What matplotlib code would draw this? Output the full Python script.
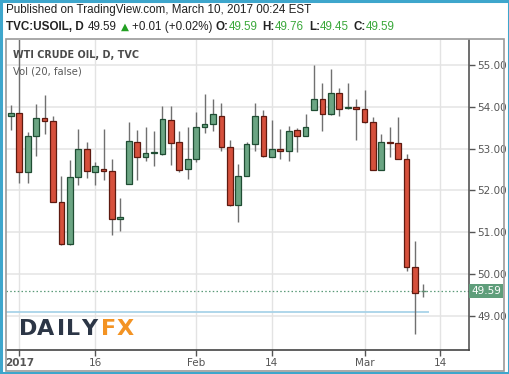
import matplotlib
matplotlib.use("Agg")
import matplotlib.pyplot as plt
from matplotlib.patches import Rectangle
from matplotlib.transforms import blended_transform_factory

# ---- DATA (daily bars, index 0 = first bar of 2017 tick) ----
bar_idx = list(range(-1, 49))
opens = [53.78, 53.85, 52.43, 53.31, 53.73, 53.66, 51.73, 50.71, 52.32, 52.99,
         52.45, 52.49, 52.47, 51.32, 52.16, 53.16, 52.80, 52.89, 52.88, 53.68,
         53.15, 52.52, 52.76, 53.51, 53.60, 53.79, 53.04, 51.64, 52.35, 53.10,
         53.79, 52.80, 52.99, 52.94, 53.44, 53.31, 53.93, 54.19, 53.82, 54.32,
         53.97, 54.00, 53.94, 53.63, 52.50, 53.16, 53.14, 52.75, 50.16, 49.59]
highs = [54.04, 55.70, 53.39, 54.06, 54.28, 53.78, 52.34, 52.72, 53.46, 53.15,
         52.67, 53.48, 52.75, 51.83, 53.64, 53.44, 53.51, 53.42, 54.02, 54.02,
         53.42, 53.51, 53.87, 54.30, 54.18, 54.10, 53.20, 52.63, 53.16, 54.10,
         53.92, 53.68, 53.48, 53.54, 53.49, 53.82, 55.00, 54.58, 54.90, 54.46,
         54.58, 54.18, 54.40, 53.76, 53.35, 53.51, 53.76, 52.87, 50.78, 49.76]
lows = [53.44, 52.17, 52.17, 52.83, 53.36, 51.72, 50.70, 50.70, 52.14, 52.30,
        52.14, 52.26, 50.94, 51.04, 52.15, 52.26, 52.70, 52.58, 52.84, 52.60,
        52.43, 52.28, 52.67, 53.38, 53.42, 52.94, 51.63, 51.24, 52.34, 52.94,
        52.79, 52.79, 52.75, 52.71, 52.91, 53.30, 53.92, 53.42, 53.81, 53.77,
        53.96, 53.20, 53.62, 52.49, 52.49, 52.79, 52.74, 50.08, 48.57, 49.45]
closes = [53.85, 52.43, 53.31, 53.73, 53.65, 51.73, 50.71, 52.33, 52.99, 52.47,
          52.59, 52.47, 51.32, 51.35, 53.18, 52.81, 52.90, 52.91, 53.70, 53.14,
          52.50, 52.76, 53.51, 53.60, 53.82, 53.04, 51.64, 52.35, 53.10, 53.79,
          52.83, 52.99, 52.94, 53.41, 53.31, 53.51, 54.19, 53.82, 54.32, 53.96,
          53.99, 53.94, 53.63, 52.50, 53.16, 53.13, 52.75, 50.16, 49.55, 49.59]

last_price = 49.59
vol_line = 49.085
x_ticks = [0, 9, 21, 30, 41, 50]
x_labels = ["2017", "16", "Feb", "14", "Mar", "14"]
y_ticks = [49, 50, 51, 52, 53, 54, 55]

W, H = 510, 374
UP, DOWN = "#6ba583", "#d6503c"
UP_EDGE, DOWN_EDGE = "#1f4d33", "#5e1a10"
TXT = "#555555"


def fx(x):
    return x / W


def fy(y):
    return 1 - y / H


fig = plt.figure(figsize=(W / 100, H / 100), dpi=100)
fig.patch.set_facecolor("white")

# outer blue border and chart frame
fig.patches.append(Rectangle((0.002, 0.003), 0.996, 0.994, transform=fig.transFigure,
                             fill=False, ec="#3ea6cc", lw=2.2))
fig.patches.append(Rectangle((fx(6), fy(371)), fx(504) - fx(6), fy(39) - fy(371),
                             transform=fig.transFigure, fill=False, ec="#9a9a9a", lw=1.2))

ax = fig.add_axes([fx(6), fy(350), fx(469) - fx(6), fy(40) - fy(350)])
ax.set_xlim(-1.58, 53.41)
ax.set_ylim(48.18, 55.60)

# grid
for y in y_ticks:
    ax.axhline(y, color="#e8e8e8", lw=1.3, zorder=0)
for x in x_ticks:
    ax.axvline(x, color="#e3e3e3", lw=1.0, zorder=0)

# candles
for i, o, h, l, c in zip(bar_idx, opens, highs, lows, closes):
    up = c >= o
    ax.vlines(i, l, h, color="#707070", lw=1.0, zorder=2)
    if i == bar_idx[-1]:
        ax.hlines(c, i - 0.3, i + 0.3, color="#5f8f72", lw=1.0, zorder=3)
        continue
    bottom = min(o, c)
    height = max(abs(c - o), 0.035)
    ax.bar(i, height, bottom=bottom, width=0.68,
           color=UP if up else DOWN, edgecolor=UP_EDGE if up else DOWN_EDGE,
           lw=0.9, zorder=3)

# last price dotted line and blue vol line
ax.axhline(last_price, color="#5b9a78", lw=0.9, ls=(0, (1.2, 1.8)), zorder=1)
ax.hlines(vol_line, -1.58, 48.6, color="#a9d3e8", lw=1.3, zorder=1)

# axes styling
for s in ["top", "left"]:
    ax.spines[s].set_visible(False)
ax.spines["right"].set_color("#555555")
ax.spines["bottom"].set_color("#444444")
ax.spines["right"].set_linewidth(1.2)
ax.spines["bottom"].set_linewidth(1.2)
ax.yaxis.tick_right()
ax.set_yticks(y_ticks)
ax.set_yticklabels([f"{v:.2f}" for v in y_ticks])
ax.set_xticks(x_ticks)
ax.set_xticklabels(x_labels)
ax.tick_params(axis="both", colors="#555555", labelcolor=TXT, labelsize=7.5,
               length=4, width=1)
ax.tick_params(axis="y", pad=2)
ax.tick_params(axis="x", pad=1.5)
ax.get_xticklabels()[0].set_fontweight("bold")

# price label on the axis
trans = blended_transform_factory(ax.transAxes, ax.transData)
ax.text(1.0 + 2 / 463, last_price, "49.59", transform=trans, ha="left", va="center",
        color="white", fontsize=7.5,
        bbox=dict(boxstyle="square,pad=0.22", fc="#5f9e7b", ec="none"), clip_on=False)

# chart titles
fig.text(fx(13), fy(55), "WTI CRUDE OIL, D, TVC",
         fontsize=6.9, fontweight="bold", color="#4a4a4a", va="center")
fig.text(fx(13), fy(72), "Vol (20, false)",
         fontsize=7.2, color="#5a5a5a", va="center")

# header
hdr = dict(family="Liberation Sans", fontsize=8.4, va="center")
fig.text(fx(6), fy(10), "Published on TradingView.com, March 10, 2017 00:24 EST",
         color="#222222", **hdr)
row = [("TVC:USOIL, D", "#222222", "bold"), ("49.59", "#222222", "normal"),
       ("\u25B2", "#22a022", "normal"), ("+0.01 (+0.02%)", "#222222", "normal"),
       ("O:", "#222222", "bold"), ("49.59", "#3aa83a", "normal"),
       ("H:", "#222222", "bold"), ("49.76", "#3aa83a", "normal"),
       ("L:", "#222222", "bold"), ("49.45", "#3aa83a", "normal"),
       ("C:", "#222222", "bold"), ("49.59", "#3aa83a", "normal")]
gaps = [0, 4, 4, 3, 4, 0, 5, 0, 5, 0, 5, 0]
renderer = fig.canvas.get_renderer()
x = 6
for (s, col, wt), g in zip(row, gaps):
    x += g
    if s == "\u25B2":
        t = fig.text(fx(x), fy(27), s, color=col, fontsize=7.5, va="center",
                     family="DejaVu Sans")
    else:
        t = fig.text(fx(x), fy(27), s, color=col, fontweight=wt, **hdr)
    x = t.get_window_extent(renderer).x1

# DailyFX logo, letter by letter for the wide tracking
logo = [("D", 19), ("A", 37), ("I", 57), ("L", 66), ("Y", 81), ("F", 101), ("X", 117)]
for ch, lx in logo:
    fig.text(fx(lx), fy(335), ch, color="#f39323" if ch in "FX" else "#2c3646",
             fontsize=16, fontweight="bold", va="baseline")

fig.savefig("out.png", dpi=100)
